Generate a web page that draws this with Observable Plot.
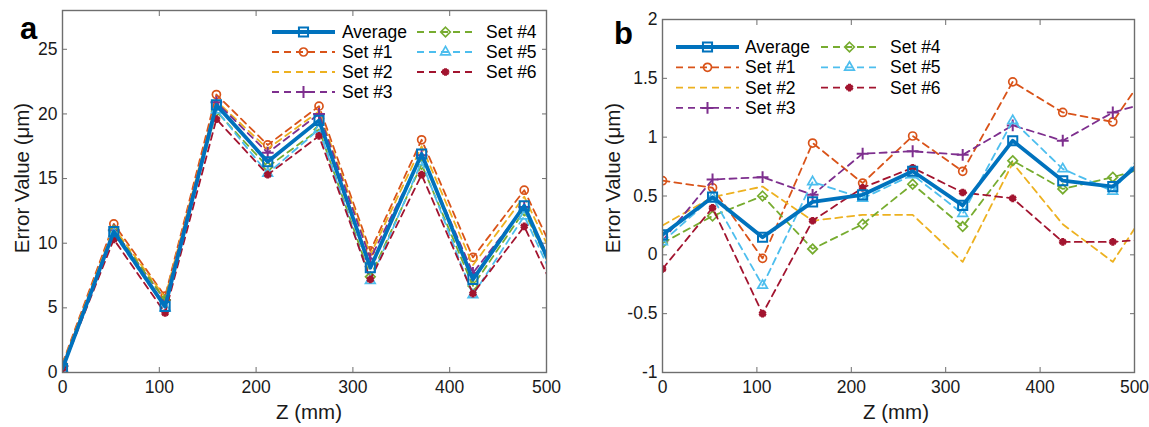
<!DOCTYPE html>
<html>
<head>
<meta charset="utf-8">
<script src="https://cdn.jsdelivr.net/npm/d3@7"></script>
<script src="https://cdn.jsdelivr.net/npm/@observablehq/plot@0.6"></script>
<style>
  html, body { margin: 0; padding: 0; background: #fff; }
  #chart { position: relative; width: 1149px; height: 427px; overflow: hidden; font-family: "Liberation Sans", Arial, sans-serif; }
  #chart .panel { position: absolute; top: 0; }
  #overlay { position: absolute; left: 0; top: 0; pointer-events: none; }
</style>
</head>
<body>
<div id="chart"></div>
<script>
// ---------------- data ----------------
const zValues = [0, 53, 106, 159, 212, 265, 318, 371, 424, 477, 530];
const seriesNames = ["Average", "Set #1", "Set #2", "Set #3", "Set #4", "Set #5", "Set #6"];

// panel a
const aAverage = [0.3, 10.9, 5.1, 20.7, 16.3, 19.5, 8.1, 16.9, 7.2, 12.9, 3.9];
const aSet1 = [0.7, 11.5, 5.9, 21.5, 17.6, 20.6, 9.4, 18.0, 8.9, 14.1, 5.8];
const aSet2 = [0.6, 11.2, 5.8, 21.0, 17.3, 20.2, 9.1, 17.5, 8.3, 13.6, 5.3];
const aSet3 = [0.5, 11.0, 5.6, 20.9, 17.0, 20.0, 8.8, 16.8, 7.7, 12.8, 4.6];
const aSet4 = [0.45, 11.0, 5.6, 20.2, 15.9, 18.8, 7.4, 16.1, 6.7, 12.5, 4.0];
const aSet5 = [0.3, 10.7, 5.0, 20.3, 15.4, 18.8, 7.1, 16.3, 6.0, 12.1, 3.6];
const aSet6 = [0.3, 10.3, 4.6, 19.6, 15.3, 18.3, 7.2, 15.3, 6.1, 11.3, 2.9];

// panel b
const bAverage = [0.17, 0.49, 0.15, 0.45, 0.51, 0.71, 0.42, 0.97, 0.63, 0.58, 0.95];
const bSet1 = [0.63, 0.57, -0.03, 0.95, 0.61, 1.01, 0.71, 1.47, 1.21, 1.13, 1.75];
const bSet2 = [0.25, 0.49, 0.58, 0.29, 0.34, 0.34, -0.06, 0.78, 0.26, -0.06, 0.59];
const bSet3 = [0.12, 0.64, 0.66, 0.51, 0.86, 0.88, 0.85, 1.10, 0.97, 1.21, 1.33];
const bSet4 = [0.10, 0.33, 0.50, 0.05, 0.26, 0.60, 0.24, 0.80, 0.56, 0.66, 0.78];
const bSet5 = [0.11, 0.49, -0.26, 0.62, 0.48, 0.68, 0.35, 1.14, 0.73, 0.54, 1.09];
const bSet6 = [-0.12, 0.40, -0.50, 0.29, 0.57, 0.74, 0.53, 0.48, 0.11, 0.11, 0.14];

const xTicks = [0, 100, 200, 300, 400, 500];
const aYTicks = [0, 5, 10, 15, 20, 25];
const bYTicks = [-1, -0.5, 0, 0.5, 1, 1.5, 2];
const xTitle = "Z (mm)";
const yTitle = "Error Value (μm)";
const panelLetters = ["a", "b"];

// ---------------- styles ----------------
const seriesColors = ["#0072BD", "#D95319", "#EDB120", "#7E2F8E", "#77AC30", "#4DBEEE", "#A2142F"];
const seriesSymbols = ["square2", "circle", null, "plus", "diamond2", "triangle2", "asterisk"];
const d3Symbols = [d3.symbolSquare2, d3.symbolCircle, null, d3.symbolPlus, d3.symbolDiamond2, d3.symbolTriangle2, d3.symbolAsterisk];
const seriesR = [5.8, 4.0, 0, 3.9, 4.3, 4.6, 3.6];
const seriesSymbolWidth = [2.0, 1.7, 0, 2.0, 1.7, 1.7, 3.0];
const dash = "7,5";
const axisColor = "#6e6e6e";
const textColor = "#1a1a1a";
const font = "Liberation Sans, Arial, sans-serif";

function makePanel(seriesValues, cfg) {
  const rows = seriesValues.flatMap((vals, i) =>
    zValues.map((z, j) => ({series: seriesNames[i], z, v: vals[j]})));
  const dataMarks = [];
  for (const i of [1, 2, 3, 4, 5, 6, 0]) {
    const d = rows.filter(r => r.series === seriesNames[i]);
    const isAvg = i === 0;
    dataMarks.push(Plot.line(d, {
      x: "z", y: "v", stroke: seriesColors[i],
      strokeWidth: isAvg ? 3.8 : 1.8,
      strokeDasharray: isAvg ? null : dash,
      clip: true
    }));
    if (seriesSymbols[i]) {
      dataMarks.push(Plot.dot(d, {
        x: "z", y: "v", symbol: seriesSymbols[i], r: seriesR[i],
        stroke: seriesColors[i], fill: "none",
        strokeWidth: seriesSymbolWidth[i], clip: true
      }));
    }
  }
  return Plot.plot({
    width: cfg.width, height: 427,
    marginLeft: cfg.ml, marginRight: cfg.mr, marginTop: cfg.mt, marginBottom: cfg.mb,
    style: {fontSize: "17.5px", fontFamily: font, color: textColor, background: "transparent"},
    x: {domain: [0, 500]},
    y: {domain: cfg.yDomain},
    marks: [
      Plot.axisX({ticks: xTicks, anchor: "bottom", tickSize: -5, tickPadding: 13, label: null, stroke: axisColor, tickFormat: d => String(d)}),
      Plot.axisX({ticks: xTicks, anchor: "top", tickSize: -5, label: null, stroke: axisColor, tickFormat: () => ""}),
      Plot.axisY({ticks: cfg.yTicks, anchor: "left", tickSize: -5, tickPadding: 10, label: null, stroke: axisColor, tickFormat: d => String(d)}),
      Plot.axisY({ticks: cfg.yTicks, anchor: "right", tickSize: -5, label: null, stroke: axisColor, tickFormat: () => ""}),
      ...dataMarks,
      Plot.frame({stroke: axisColor, strokeWidth: 1.4})
    ]
  });
}

const chart = document.getElementById("chart");
const pa = makePanel([aAverage, aSet1, aSet2, aSet3, aSet4, aSet5, aSet6],
  {width: 575, ml: 62, mr: 29, mt: 10, mb: 55, yDomain: [0, 28], yTicks: aYTicks});
pa.classList.add("panel"); pa.style.left = "0px";
chart.appendChild(pa);
const pb = makePanel([bAverage, bSet1, bSet2, bSet3, bSet4, bSet5, bSet6],
  {width: 574, ml: 87, mr: 15, mt: 19, mb: 55, yDomain: [-1, 2], yTicks: bYTicks});
pb.classList.add("panel"); pb.style.left = "575px";
chart.appendChild(pb);

// ---------------- overlay: titles, letters, legends ----------------
const ov = d3.select(chart).append("svg").attr("id", "overlay")
  .attr("width", 1149).attr("height", 427)
  .style("font-family", font);

const titles = [
  {x: 309, y: 411, text: xTitle, rot: 0},
  {x: 896, y: 411, text: xTitle, rot: 0},
  {x: 21, y: 178, text: yTitle, rot: -90},
  {x: 612, y: 178, text: yTitle, rot: -90}
];
for (const t of titles) {
  ov.append("text")
    .attr("transform", `translate(${t.x},${t.y}) rotate(${t.rot})`)
    .attr("text-anchor", "middle").attr("dominant-baseline", "central")
    .attr("font-size", 20.5).attr("fill", textColor).text(t.text);
}
const letters = [{x: 20, y: 39, t: panelLetters[0]}, {x: 614, y: 44, t: panelLetters[1]}];
for (const l of letters) {
  ov.append("text").attr("x", l.x).attr("y", l.y)
    .attr("font-size", 31).attr("font-weight", "bold").attr("fill", "#000").text(l.t);
}

function legend(cols, y0, dy) {
  const groups = [[0, 1, 2, 3], [4, 5, 6]];
  groups.forEach((idxs, c) => {
    const col = cols[c];
    idxs.forEach((i, k) => {
      const y = y0 + k * dy;
      ov.append("line").attr("x1", col.x0).attr("x2", col.x1).attr("y1", y).attr("y2", y)
        .attr("stroke", seriesColors[i]).attr("stroke-width", i === 0 ? 3.8 : 1.8)
        .attr("stroke-dasharray", i === 0 ? null : dash);
      if (d3Symbols[i]) {
        ov.append("path")
          .attr("d", d3.symbol(d3Symbols[i], Math.PI * seriesR[i] * seriesR[i])())
          .attr("transform", `translate(${(col.x0 + col.x1) / 2},${y})`)
          .attr("fill", "none").attr("stroke", seriesColors[i])
          .attr("stroke-width", seriesSymbolWidth[i]);
      }
      ov.append("text").attr("x", col.xt).attr("y", y)
        .attr("dominant-baseline", "central").attr("font-size", 17.5)
        .attr("fill", "#000").text(seriesNames[i]);
    });
  });
}
legend([{x0: 272, x1: 335, xt: 342}, {x0: 417, x1: 474, xt: 486}], 32, 20);
legend([{x0: 676, x1: 739, xt: 745}, {x0: 821, x1: 878, xt: 890}], 47, 20.3);
</script>
</body>
</html>
